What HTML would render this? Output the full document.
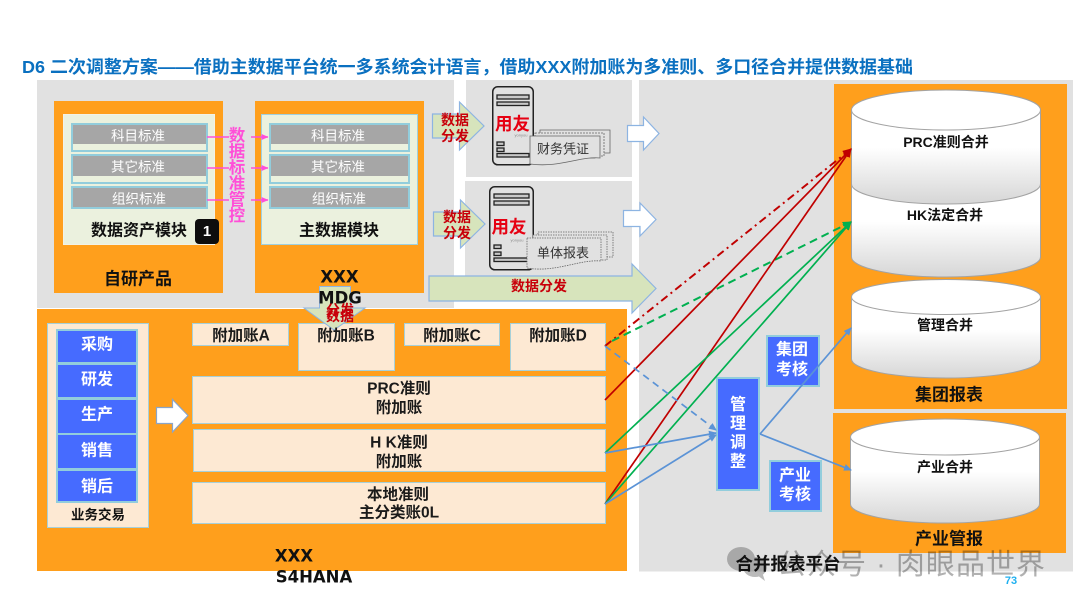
<!DOCTYPE html>
<html lang="zh">
<head>
<meta charset="utf-8">
<title>D6 二次调整方案</title>
<style>
html,body{margin:0;padding:0;background:#fff;width:1080px;height:608px;overflow:hidden}
svg{display:block}
text{font-family:"Liberation Sans","Noto Sans CJK SC",sans-serif;text-anchor:middle;dominant-baseline:central;font-weight:700}
.s{fill:#fff;font-size:13.5px;font-weight:400}
.m{font-size:15.5px;fill:#1a1a1a}
.h{font-size:17px;fill:#111}
.d{font-family:"DejaVu Sans","Noto Sans CJK SC",sans-serif;font-size:16.5px;fill:#111}
.n{font-weight:400}
</style>
</head>
<body>
<svg width="1080" height="608" viewBox="0 0 1080 608" xmlns="http://www.w3.org/2000/svg">
<defs>
<linearGradient id="cy" x1="0" y1="0" x2="0" y2="1">
<stop offset="0" stop-color="#ffffff"/><stop offset="0.4" stop-color="#ffffff"/><stop offset="1" stop-color="#d6d6d6"/>
</linearGradient>
<marker id="ar" markerWidth="10" markerHeight="10" refX="8" refY="4" orient="auto" markerUnits="userSpaceOnUse"><path d="M0 0L9 4L0 8Z" fill="#c00000"/></marker>
<marker id="ag" markerWidth="10" markerHeight="10" refX="8" refY="4" orient="auto" markerUnits="userSpaceOnUse"><path d="M0 0L9 4L0 8Z" fill="#00b050"/></marker>
<marker id="ab" markerWidth="10" markerHeight="10" refX="7" refY="3.5" orient="auto" markerUnits="userSpaceOnUse"><path d="M0 0L8 3.5L0 7Z" fill="#5b93d6"/></marker>
<marker id="ap" markerWidth="8" markerHeight="8" refX="6.5" refY="3" orient="auto" markerUnits="userSpaceOnUse"><path d="M0 0L7 3L0 6Z" fill="#ff4fd8"/></marker>
</defs>

<rect width="1080" height="608" fill="#fff"/>

<!-- title -->
<text x="467.5" y="67" font-size="17.5" fill="#0a70c0" textLength="891" lengthAdjust="spacingAndGlyphs">D6 二次调整方案——借助主数据平台统一多系统会计语言，借助XXX附加账为多准则、多口径合并提供数据基础</text>

<!-- gray panels -->
<rect x="37" y="80" width="417" height="228" fill="#e1e1e1"/>
<rect x="466" y="80" width="166" height="97" fill="#e1e1e1"/>
<rect x="465" y="181" width="167" height="120" fill="#e1e1e1"/>
<rect x="639" y="80" width="434" height="491.500" fill="#e1e1e1"/>

<!-- left orange modules -->
<rect x="54" y="101" width="169" height="192" fill="#ff9f1c"/>
<rect x="255" y="101" width="169" height="192" fill="#ff9f1c"/>
<rect x="63.500" y="114.500" width="151" height="130" fill="#ebf1de" stroke="#f2f2e6"/>
<rect x="261.500" y="114.500" width="156" height="130" fill="#ebf1de" stroke="#9fd0df"/>

<!-- standards rows -->
<g stroke="#92cddc" stroke-width="2" fill="#ebf1de">
<rect x="72" y="124" width="135" height="27"/>
<rect x="72" y="155" width="135" height="28"/>
<rect x="72" y="187" width="135" height="21"/>
<rect x="270" y="124" width="139" height="27"/>
<rect x="270" y="155" width="139" height="28"/>
<rect x="270" y="187" width="139" height="21"/>
</g>
<g fill="#a6a6a6">
<rect x="73" y="125" width="133" height="19"/>
<rect x="73" y="156" width="133" height="20"/>
<rect x="73" y="188" width="133" height="19"/>
<rect x="271" y="125" width="137" height="19"/>
<rect x="271" y="156" width="137" height="20"/>
<rect x="271" y="188" width="137" height="19"/>
</g>
<text class="s" x="138" y="136">科目标准</text>
<text class="s" x="138" y="167">其它标准</text>
<text class="s" x="139" y="199">组织标准</text>
<text class="s" x="338" y="136">科目标准</text>
<text class="s" x="338" y="167">其它标准</text>
<text class="s" x="339" y="199">组织标准</text>

<!-- pink connectors -->
<g stroke="#ff4fd8" stroke-width="1.500" fill="none">
<path d="M207 137H229"/><path d="M207 168H229"/><path d="M207 200H229"/>
<path d="M251 137H268" marker-end="url(#ap)"/><path d="M251 168H268" marker-end="url(#ap)"/><path d="M251 200H268" marker-end="url(#ap)"/>
</g>
<g font-size="16.500" fill="#ff4fd8">
<text x="237" y="136">数</text><text x="237" y="152">据</text><text x="237" y="168">标</text>
<text x="237" y="184">准</text><text x="237" y="200">管</text><text x="237" y="216">控</text>
</g>

<text x="139" y="231" font-size="16" fill="#111">数据资产模块</text>
<rect x="195" y="219" width="24" height="25" rx="4" fill="#0d0d0d"/>
<text x="207" y="231.500" font-size="15" fill="#fff">1</text>
<text x="339" y="231" font-size="16" fill="#111">主数据模块</text>
<text class="h" x="138" y="279">自研产品</text>

<!-- distribute arrows -->
<g fill="#d7e4bc" stroke="#8db4e2" stroke-width="1.200">
<path d="M432.500 114H459.500V102L484 126L459.500 150V138H432.500Z"/>
<path d="M433.500 212H460.500V200L485 224L460.500 248V236H433.500Z"/>
</g>
<g font-size="14" fill="#c8000a">
<text x="455" y="120">数据</text><text x="455" y="136">分发</text>
<text x="457" y="217">数据</text><text x="457" y="233">分发</text>
</g>

<!-- servers -->
<g fill="none" stroke="#222" stroke-width="1.500">
<rect x="492.750" y="86.750" width="40.500" height="78" rx="5"/>
<rect x="489.750" y="186.750" width="43.500" height="83" rx="5"/>
</g>
<g fill="#c9c9c9" stroke="#222" stroke-width="1.300">
<rect x="497" y="95" width="32" height="4"/><rect x="497" y="102" width="32" height="3.500"/>
<rect x="497" y="142" width="7" height="3.500"/><rect x="497" y="148" width="7" height="3.500"/>
<rect x="497" y="153.500" width="32" height="3.500"/>
<rect x="494" y="194" width="35" height="4"/><rect x="494" y="201" width="35" height="4"/>
<rect x="494" y="245" width="7" height="3.500"/><rect x="494" y="252" width="7" height="3.500"/>
<rect x="494" y="258" width="35" height="3.500"/>
</g>
<text x="512.500" y="124" font-size="17.500" fill="#e60012">用友</text>
<text x="509" y="227" font-size="17.500" fill="#e60012">用友</text>
<text class="n" x="521" y="135" font-size="4" fill="#888">yonyou</text>
<text class="n" x="517" y="240" font-size="4" fill="#888">yonyou</text>

<!-- documents -->
<g fill="#e1e1e1" stroke="#666" stroke-width="0.800">
<path d="M540 130H610V153H595V158H540Z" fill="none"/>
<path d="M535 133H604V156H535Z" stroke-dasharray="2 1"/>
<path d="M530 136H600V158C580 156 560 168 530 164Z"/>
<path d="M538 232H613V257H538Z" fill="none" stroke-dasharray="1.500 1"/>
<path d="M533 235H607V260H533Z" stroke-dasharray="1.500 1"/>
<path d="M527 238H601V261C580 259 555 273 527 268Z" stroke-dasharray="1.500 1"/>
</g>
<text class="n" x="563" y="149" font-size="13" fill="#333">财务凭证</text>
<text class="n" x="563" y="253" font-size="13" fill="#333">单体报表</text>

<!-- white arrows -->
<g fill="#fff" stroke="#8db4e2" stroke-width="1.200">
<path d="M627.500 125.500H643.500V117L659 133.500L643.500 150V141.500H627.500Z"/>
<path d="M623.500 210.500H640V203L656 219.500L640 236V226.500H623.500Z"/>
</g>

<!-- big green arrow -->
<path d="M429 276H632V264L656 288.500L632 313V301H429Z" fill="#d7e4bc" stroke="#8db4e2" stroke-width="1.200"/>
<text x="539" y="286" font-size="14" fill="#c8000a">数据分发</text>

<!-- S4 -->
<rect x="37" y="309" width="590" height="262" fill="#ff9f1c"/>
<rect x="47.500" y="323.500" width="101" height="204" fill="#fde9d3" stroke="#a7d0d8"/>
<rect x="56" y="329" width="82" height="174" fill="#92cddc"/>
<g fill="#466bff">
<rect x="58" y="331" width="78" height="31"/>
<rect x="58" y="365" width="78" height="32"/>
<rect x="58" y="400" width="78" height="33"/>
<rect x="58" y="435" width="78" height="33"/>
<rect x="58" y="471" width="78" height="30"/>
</g>
<g font-size="16" fill="#fff">
<text x="97" y="345">采购</text><text x="97" y="380">研发</text><text x="97" y="415">生产</text>
<text x="97" y="451">销售</text><text x="97" y="487">销后</text>
</g>
<text x="98" y="515" font-size="13.500" fill="#111">业务交易</text>

<path d="M156.500 407.500H172.500V399.500L188 415.500L172.500 432V423.500H156.500Z" fill="#fff" stroke="#8aa5c8" stroke-width="1.200"/>

<g fill="#fde9d3" stroke="#a7d0d8">
<rect x="192.500" y="323.500" width="96" height="22"/>
<rect x="298.500" y="323.500" width="96" height="47"/>
<rect x="404.500" y="323.500" width="95" height="22"/>
<rect x="510.500" y="323.500" width="95" height="47"/>
<rect x="192.500" y="376.500" width="413" height="47"/>
<rect x="193.500" y="429.500" width="412" height="42"/>
<rect x="192.500" y="482.500" width="413" height="41"/>
</g>

<!-- MDG down arrow -->
<path d="M319.500 286.500H350.500V308H365L334 330L304 308H319.500Z" fill="#d7e4bc" stroke="#8db4e2" stroke-width="1"/>
<text x="340" y="310" font-size="14" fill="#c8000a">分发</text>
<text x="340" y="316" font-size="14" fill="#c8000a">数据</text>

<text class="m" x="241" y="336">附加账A</text>
<text class="m" x="346" y="336">附加账B</text>
<text class="m" x="452" y="336">附加账C</text>
<text class="m" x="558" y="336">附加账D</text>
<text class="m" x="399" y="389">PRC准则</text>
<text class="m" x="399" y="408">附加账</text>
<text class="m" x="399" y="443">H K准则</text>
<text class="m" x="399" y="462">附加账</text>
<text class="m" x="398" y="495">本地准则</text>
<text class="m" x="399" y="513">主分类账0L</text>

<text class="d" x="339.500" y="277">XXX</text>
<text class="d" x="340" y="298">MDG</text>
<text class="d" x="294" y="556">XXX</text>
<text class="d" x="314" y="577">S4HANA</text>

<!-- right orange -->
<rect x="834" y="84" width="233" height="325" fill="#ff9f1c"/>
<rect x="833" y="413" width="233" height="140" fill="#ff9f1c"/>

<!-- cylinders -->
<g stroke="#a3a3a3" stroke-width="1">
<path d="M851.500 185V257A94.500 20 0 0 0 1040.500 257V185Z" fill="url(#cy)"/>
<path d="M851.500 110V184A94.500 20 0 0 0 1040.500 184V110Z" fill="url(#cy)"/>
<ellipse cx="946" cy="110" rx="94.500" ry="20" fill="#fff"/>
<path d="M851.500 298V359A94.500 19 0 0 0 1040.500 359V298Z" fill="url(#cy)"/>
<ellipse cx="946" cy="297" rx="94.500" ry="17.500" fill="#fff"/>
<path d="M850.500 437V504A94.500 19 0 0 0 1039.500 504V437Z" fill="url(#cy)"/>
<ellipse cx="945" cy="437" rx="94.500" ry="18" fill="#fff"/>
</g>
<text x="946" y="142" font-size="14" fill="#111">PRC准则合并</text>
<text x="945" y="215" font-size="14" fill="#111">HK法定合并</text>
<text x="945" y="325" font-size="14" fill="#111">管理合并</text>
<text x="945" y="467" font-size="14" fill="#111">产业合并</text>
<text class="h" x="949" y="395">集团报表</text>
<text class="h" x="949" y="539">产业管报</text>

<!-- KPI boxes -->
<g fill="#466bff" stroke="#92cddc" stroke-width="2">
<rect x="717" y="378" width="42" height="112"/>
<rect x="767" y="336" width="52" height="50"/>
<rect x="770" y="461" width="51" height="50"/>
</g>
<g font-size="16" fill="#fff">
<text x="738" y="405">管</text><text x="738" y="424">理</text><text x="738" y="443">调</text><text x="738" y="462">整</text>
<text x="792" y="350">集团</text><text x="792" y="370">考核</text>
<text x="795" y="476">产业</text><text x="795" y="495">考核</text>
</g>

<!-- connectors -->
<g fill="none" stroke-width="1.700">
<path d="M605 346L851 149" stroke="#c00000" stroke-width="2" stroke-dasharray="8 4 2 4" marker-end="url(#ar)"/>
<path d="M612 341L851 222" stroke="#00b050" stroke-width="2" stroke-dasharray="8 5" marker-end="url(#ag)"/>
<path d="M605 400L851 149" stroke="#c00000" marker-end="url(#ar)"/>
<path d="M605 504L851 149" stroke="#c00000" marker-end="url(#ar)"/>
<path d="M605 453L851 222" stroke="#00b050" marker-end="url(#ag)"/>
<path d="M605 504L851 222" stroke="#00b050" marker-end="url(#ag)"/>
<path d="M605 346L716 430" stroke="#5b93d6" stroke-dasharray="7 5" marker-end="url(#ab)"/>
<path d="M605 453L716 433" stroke="#5b93d6" marker-end="url(#ab)"/>
<path d="M605 504L716 435" stroke="#5b93d6" marker-end="url(#ab)"/>
<path d="M760 434L851 328" stroke="#5b93d6" marker-end="url(#ab)"/>
<path d="M760 434L851 470" stroke="#5b93d6" marker-end="url(#ab)"/>
</g>

<!-- watermark -->
<g opacity="0.4" fill="#555">
<ellipse cx="741" cy="559" rx="14" ry="12"/>
<ellipse cx="755" cy="567" rx="12" ry="10"/>
<path d="M757 575L765 581L762 572Z"/>
</g>
<text class="n" x="911" y="565" font-size="29" fill="#000" opacity="0.3" textLength="268" lengthAdjust="spacing">公众号 · 肉眼品世界</text>
<text x="788" y="564" font-size="17.500" fill="#111">合并报表平台</text>
<text x="1011" y="581" font-size="11" fill="#1fb0f0">73</text>
</svg>
</body>
</html>
